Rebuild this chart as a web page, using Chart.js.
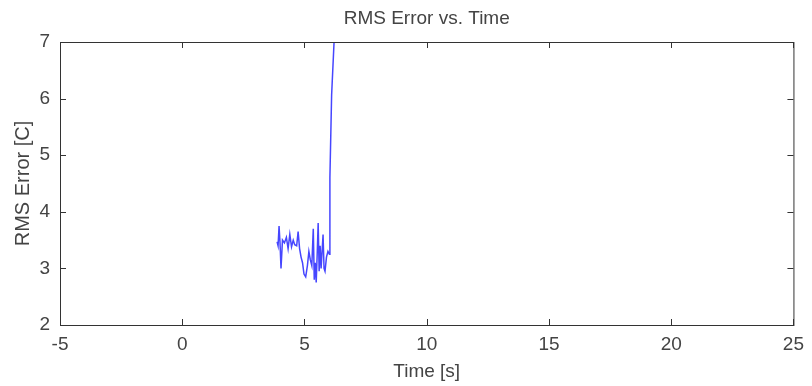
<!DOCTYPE html>
<html>
<head>
<meta charset="utf-8">
<script src="https://cdn.jsdelivr.net/npm/chart.js@4.4.1/dist/chart.umd.min.js"></script>
<style>
  html, body { margin: 0; padding: 0; background: #fff; }
  #wrap { width: 812px; height: 386px; }
</style>
</head>
<body>
<div id="wrap"><canvas id="rmsChart" width="812" height="386"></canvas></div>
<script>
// values (time in s, RMS error in C)
const timeVals = [3.88, 3.92, 3.96, 4.00, 4.04, 4.10, 4.18, 4.26, 4.33, 4.40,
                  4.47, 4.54, 4.60, 4.68, 4.74, 4.80, 4.86, 4.92, 4.98, 5.05,
                  5.12, 5.18, 5.24, 5.30, 5.36, 5.40, 5.44, 5.48, 5.52, 5.56,
                  5.60, 5.64, 5.68, 5.72, 5.76, 5.80, 5.84, 5.90, 5.96, 6.02,
                  6.04, 6.11, 6.21, 6.32];
const rmsVals  = [3.47, 3.40, 3.75, 3.45, 3.00, 3.50, 3.45, 3.55, 3.35, 3.60,
                  3.38, 3.50, 3.42, 3.40, 3.65, 3.35, 3.20, 3.10, 2.90, 2.85,
                  3.05, 3.30, 3.15, 3.05, 3.70, 2.80, 3.10, 2.75, 3.25, 3.80,
                  2.95, 3.40, 3.00, 3.30, 3.60, 3.00, 2.95, 3.20, 3.30, 3.25,
                  4.60, 6.06, 7.00, 8.50];
const xTicks = [-5, 0, 5, 10, 15, 20, 25];
const yTicks = [2, 3, 4, 5, 6, 7];

const txtColor = '#444';
const fontFamily = 'Liberation Sans, Arial, sans-serif';

// matlab style box with inward ticks
const boxPlugin = {
    id: 'matlabBox',
    afterDraw(chart) {
        const { ctx, chartArea: a, scales } = chart;
        const len = 6;
        ctx.save();
        ctx.strokeStyle = '#333';
        ctx.lineWidth = 1;
        ctx.strokeRect(a.left + 0.5, a.top + 0.5, a.right - a.left, a.bottom - a.top);
        ctx.beginPath();
        xTicks.forEach(v => {
            const px = Math.round(scales.x.getPixelForValue(v)) + 0.5;
            ctx.moveTo(px, a.bottom); ctx.lineTo(px, a.bottom - len);
            ctx.moveTo(px, a.top);    ctx.lineTo(px, a.top + len);
        });
        yTicks.forEach(v => {
            const py = Math.round(scales.y.getPixelForValue(v)) + 0.5;
            ctx.moveTo(a.left, py);  ctx.lineTo(a.left + len, py);
            ctx.moveTo(a.right, py); ctx.lineTo(a.right - len, py);
        });
        ctx.stroke();
        ctx.restore();
    }
};

new Chart(document.getElementById('rmsChart').getContext('2d'), {
    type: 'line',
    data: {
        datasets: [{
            data: timeVals.map((t, i) => ({ x: t, y: rmsVals[i] })),
            borderColor: '#4646ff',
            borderWidth: 1.5,
            pointRadius: 0,
            tension: 0,
            fill: false
        }]
    },
    options: {
        responsive: false,
        animation: false,
        layout: { padding: { left: 0, right: 9, top: 0, bottom: 0 } },
        plugins: {
            legend: { display: false },
            tooltip: { enabled: false },
            title: {
                display: true,
                fullSize: false,
                text: 'RMS Error vs. Time',
                color: txtColor,
                font: { family: fontFamily, size: 19, weight: 'normal' },
                padding: { top: 7, bottom: 12.2 }
            }
        },
        scales: {
            x: {
                type: 'linear',
                min: -5, max: 25,
                afterBuildTicks: s => { s.ticks = xTicks.map(v => ({ value: v })); },
                afterFit: s => { s.height = 61; },
                grid: { display: false, drawTicks: false },
                border: { display: false },
                ticks: { color: txtColor, padding: 8, font: { family: fontFamily, size: 19 } },
                title: {
                    display: true, text: 'Time [s]', color: txtColor,
                    font: { family: fontFamily, size: 19 },
                    padding: { top: 0, bottom: 3 }
                }
            },
            y: {
                type: 'linear',
                min: 2, max: 7,
                afterBuildTicks: s => { s.ticks = yTicks.map(v => ({ value: v })); },
                afterFit: s => { s.width = 60; },
                grid: { display: false, drawTicks: false },
                border: { display: false },
                ticks: { color: txtColor, padding: 10, font: { family: fontFamily, size: 19 } },
                title: {
                    display: true, text: 'RMS Error [C]', color: txtColor,
                    font: { family: fontFamily, size: 20 },
                    padding: { top: 11, bottom: 0 }
                }
            }
        }
    },
    plugins: [boxPlugin]
});
</script>
</body>
</html>
